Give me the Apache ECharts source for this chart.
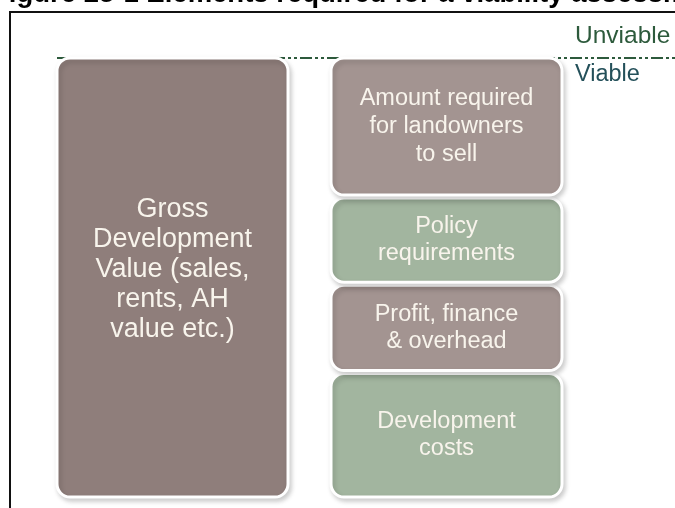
<!DOCTYPE html>
<html>
<head>
<meta charset="utf-8">
<script src="https://cdn.jsdelivr.net/npm/echarts@6/dist/echarts.min.js"></script>
<style>
html,body{margin:0;padding:0;background:#fff;}
#chart{width:675px;height:508px;}
</style>
</head>
<body>
<div id="chart"></div>
<script>
// ---- data ----
var titleText = 'Figure 25-1 Elements required for a viability assessment';
var categories = ['Gross Development Value', 'Costs and land value'];
var gdvValues = [100, '-'];
var devCosts = ['-', 28.6];
var profitFinance = ['-', 20.0];
var policyReq = ['-', 19.7];
var landownerAmount = ['-', 31.7];
var thresholdValues = [100, 100];
var thresholdLabels = ['Unviable', 'Viable'];
var gdvLabel = 'Gross\nDevelopment\nValue (sales,\nrents, AH\nvalue etc.)';
var devLabel = 'Development\ncosts';
var profitLabel = 'Profit, finance\n& overhead';
var policyLabel = 'Policy\nrequirements';
var amountLabel = 'Amount required\nfor landowners\nto sell';

// ---- style ----
var brownDark = '#8f7e7b';
var brownLight = '#a39491';
var green = '#a2b59f';
var textCol = '#f8f4ec';
var lineCol = '#2d5a3c';
var font = 'Liberation Sans';

function seg(name, data, color, text, size, lh, offset) {
  return {
    name: name,
    type: 'bar',
    stack: 'total',
    xAxisIndex: 0, yAxisIndex: 0,
    barWidth: 234,
    data: data,
    z: 3,
    itemStyle: {
      color: color,
      borderRadius: 13,
      borderColor: '#ffffff',
      borderWidth: 3,
      shadowBlur: 5,
      shadowOffsetX: 2,
      shadowOffsetY: 3,
      shadowColor: 'rgba(0,0,0,0.18)'
    },
    label: {
      show: true,
      position: 'inside',
      formatter: function () { return text; },
      color: textCol,
      fontFamily: font,
      fontSize: size,
      lineHeight: lh,
      offset: offset || [0, 0],
      align: 'center'
    }
  };
}

var chart = echarts.init(document.getElementById('chart'), null, {renderer: 'canvas'});
chart.setOption({
  animation: false,
  backgroundColor: '#ffffff',
  grid: [
    {left: 35.5, width: 548, top: 56.5, bottom: 9.5},
    {left: 57, right: 0, top: 58, bottom: 11}
  ],
  xAxis: [
    {type: 'category', data: categories, gridIndex: 0, show: false},
    {type: 'category', data: thresholdLabels, gridIndex: 1, show: false, boundaryGap: false}
  ],
  yAxis: [
    {type: 'value', gridIndex: 0, min: 0, max: 100, show: false},
    {type: 'value', gridIndex: 1, min: 0, max: 100, show: false}
  ],
  graphic: [
    {type: 'text', left: -8, top: -20, z: 10,
      style: {text: titleText, fill: '#000', font: 'bold 27.5px "Liberation Sans"'}},
    {type: 'line', z: 10, shape: {x1: 10, y1: 12, x2: 675, y2: 12},
      style: {stroke: '#111', lineWidth: 2}},
    {type: 'line', z: 10, shape: {x1: 10, y1: 11, x2: 10, y2: 508},
      style: {stroke: '#111', lineWidth: 2}},
    {type: 'text', left: 575, top: 24, z: 10,
      style: {text: thresholdLabels[0], fill: lineCol, font: '24.5px "Liberation Sans"'}},
    {type: 'text', left: 575, top: 63, z: 10,
      style: {text: thresholdLabels[1], fill: '#24505a', font: '23.5px "Liberation Sans"'}}
  ],
  series: [
    {
      name: 'Threshold',
      type: 'line',
      xAxisIndex: 1, yAxisIndex: 1,
      data: thresholdValues,
      symbol: 'none',
      z: 1,
      lineStyle: {color: lineCol, width: 2, type: [12, 3, 3, 3, 3, 3]}
    },
    seg('GDV', gdvValues, brownDark, gdvLabel, 27, 30, [0, -8]),
    seg('Development costs', devCosts, green, devLabel, 23.5, 27),
    seg('Profit, finance & overhead', profitFinance, brownLight, profitLabel, 23.5, 27),
    seg('Policy requirements', policyReq, green, policyLabel, 23.5, 27),
    seg('Amount required for landowners to sell', landownerAmount, brownLight, amountLabel, 23.5, 28)
  ]
});
</script>
</body>
</html>
